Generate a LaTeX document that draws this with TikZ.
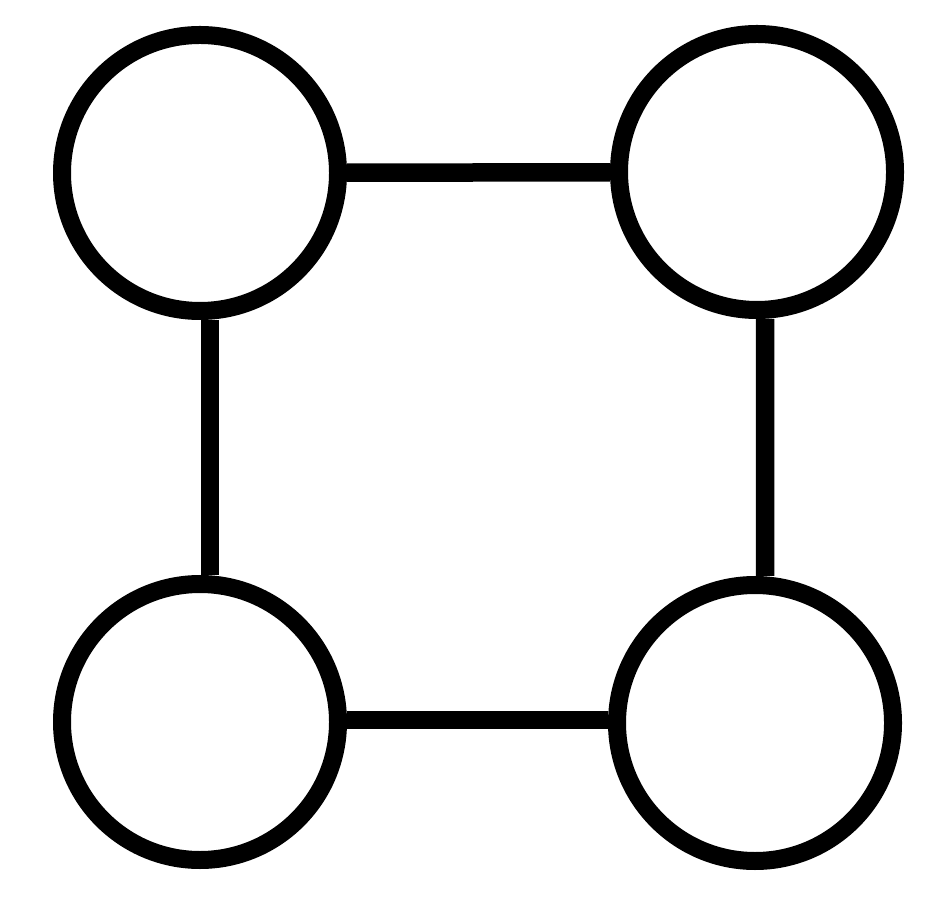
\documentclass[tikz,border=0pt]{standalone}
\usepackage{tikz}
\begin{document}
\begin{tikzpicture}
    \tikzset{nd/.style={
      circle,
      draw,
      line width=0.18cm,
      minimum size=2.76cm,
      inner sep=0pt},
      ln/.style={line width=0.185cm}}
    \useasboundingbox (0, 0) rectangle (9.36, -9.16);
    \node[nd] at (2.00, -1.73) (0) {};
    \node[nd] at (7.57, -1.72) (1) {};
    \node[nd] at (2.00, -7.22) (2) {};
    \node[nd] at (7.55, -7.23) (3) {};

    \draw[ln] (0) -- (1);
    \draw[ln] ([yshift=.02cm]2.east) -- ([yshift=.03cm]3.west);
    \draw[ln] ([xshift=.1cm]0.south) -- ([xshift=.1cm]2.north);
    \draw[ln] ([xshift=.08cm]1.south) -- ([xshift=.1cm]3.north);
  \end{tikzpicture}
\end{document}
